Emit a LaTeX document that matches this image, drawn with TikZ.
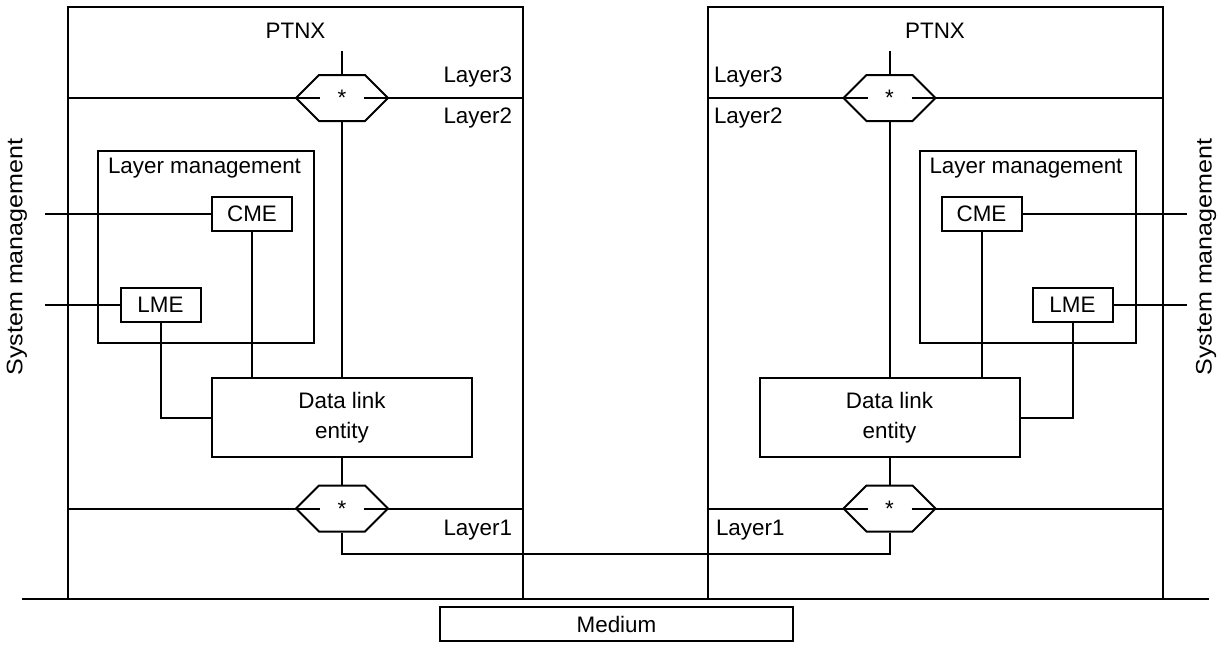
\documentclass[tikz,border=0pt]{standalone}
\usepackage{fontspec}
\setmainfont{Liberation Sans}
\usetikzlibrary{positioning, shapes.symbols, calc}

\begin{document}
\begin{tikzpicture}[x=0.5pt, y=-0.5pt, line width=1pt,
    every node/.style={font=\fontsize{11.2}{15}\selectfont},
    frm/.style={draw, minimum width=227.5pt, minimum height=296pt},
    lm/.style={draw, minimum width=108pt, minimum height=96pt},
    ent/.style={draw, minimum width=40pt, minimum height=17pt, inner sep=0pt},
    dle/.style={draw, align=center, minimum width=130pt, minimum height=39.5pt},
    hexa/.style={signal, signal to=west and east, signal pointer angle=90, draw,
      minimum width=46pt, minimum height=23pt, inner sep=0pt},
    lbl/.style={inner sep=0pt}]
  \useasboundingbox (0,0) rectangle (1223,644);
  \node[frm] (ptL) at (295.5,303) {};
  \node[frm] (ptR) at (935,303) {};
  \node[lbl] (tL) at (295.5,31) {PTNX};
  \node[lbl] (tR) at (935,31) {PTNX};
  \node[hexa] (h3L) at (342,98) {*};
  \node[hexa] (h1L) at (342,508.5) {*};
  \node[hexa] (h3R) at (889.5,98) {*};
  \node[hexa] (h1R) at (889.5,508.5) {*};
  \node[lbl, anchor=east] (l3L) at (513,77) {Layer3};
  \node[lbl, anchor=east] (l2L) at (513,118) {Layer2};
  \node[lbl, anchor=east] (l1L) at (513,530) {Layer1};
  \node[lbl, anchor=west] (l3R) at (713,77) {Layer3};
  \node[lbl, anchor=west] (l2R) at (713,118) {Layer2};
  \node[lbl, anchor=west] (l1R) at (715,530) {Layer1};
  \node[lm] (lmL) at (206,247) {};
  \node[lm] (lmR) at (1027.5,247) {};
  \node[lbl, anchor=north west] (lmtL) at ([xshift=5pt, yshift=-3.5pt]lmL.north west) {Layer management};
  \node[lbl, anchor=north west] (lmtR) at ([xshift=5pt, yshift=-3.5pt]lmR.north west) {Layer management};
  \node[ent] (cL) at (252,213.5) {CME};
  \node[ent] (eL) at (160.5,305) {LME};
  \node[ent] (cR) at (981.5,213.5) {CME};
  \node[ent] (eR) at (1072.5,305) {LME};
  \node[dle] (dL) at (342,417.5) {Data link\\entity};
  \node[dle] (dR) at (889.5,417.5) {Data link\\entity};
  \node[draw, minimum width=176.5pt, minimum height=17pt] (med) at (616.5,624) {Medium};
  \node[rotate=90] (smL) at (17,257) {\scalebox{1.12}[1]{System management}};
  \node[rotate=90] (smR) at (1206,257) {\scalebox{1.12}[1]{System management}};
  \coordinate (gA) at (22,599);
  \coordinate (gB) at (1209,599);
  \coordinate (sL) at (45,0);
  \coordinate (sR) at (1187,0);
  \coordinate (bus) at (0,554);

  \draw (gA) -- (gB);
  \draw (ptL.west |- h3L) -- ([xshift=-11pt]h3L.center) ([xshift=11pt]h3L.center) -- (ptL.east |- h3L);
  \draw (ptL.west |- h1L) -- ([xshift=-11pt]h1L.center) ([xshift=11pt]h1L.center) -- (ptL.east |- h1L);
  \draw (ptR.west |- h3R) -- ([xshift=-11pt]h3R.center) ([xshift=11pt]h3R.center) -- (ptR.east |- h3R);
  \draw (ptR.west |- h1R) -- ([xshift=-11pt]h1R.center) ([xshift=11pt]h1R.center) -- (ptR.east |- h1R);
  \draw (h3L.north) -- ++(0,-23);
  \draw (h3R.north) -- ++(0,-23);
  \draw (h3L.south) -- (dL.north);
  \draw (h3R.south) -- (dR.north);
  \draw (dL.south) -- (h1L.north);
  \draw (dR.south) -- (h1R.north);
  \draw (h1L.south) -- (h1L.south |- bus) -- (h1R.south |- bus) -- (h1R.south);
  \draw (cL.west) -- (sL |- cL.west);
  \draw (eL.west) -- (sL |- eL.west);
  \draw (cL.south) -- (cL.south |- dL.north);
  \draw (eL.south) |- (dL.west);
  \draw (cR.east) -- (sR |- cR.east);
  \draw (eR.east) -- (sR |- eR.east);
  \draw (cR.south) -- (cR.south |- dR.north);
  \draw (eR.south) |- (dR.east);
\end{tikzpicture}
\end{document}
